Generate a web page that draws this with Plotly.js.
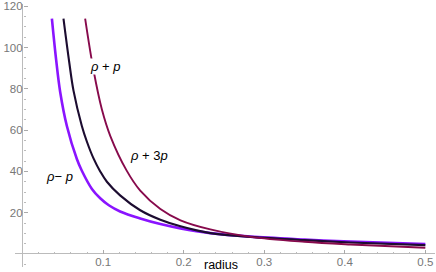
<!DOCTYPE html>
<html>
<head>
<meta charset="utf-8">
<script src="https://cdn.plot.ly/plotly-3.0.1.min.js"></script>
<style>html,body{margin:0;padding:0;background:#fff;}#chart{width:436px;height:272px;}</style>
</head>
<body>
<div id="chart"></div>
<script>
// rho - p
const radiusMinusP = [0.0363, 0.0416, 0.0466, 0.0549, 0.0673, 0.0735, 0.086, 0.0963, 0.107, 0.121, 0.146, 0.171, 0.196, 0.233, 0.283, 0.35, 0.407, 0.5];
const valuesMinusP = [114, 94, 78.5, 62, 46, 40.3, 31.5, 27, 23.6, 20.6, 17.2, 14.5, 12.4, 10.1, 8.4, 7.0, 6.0, 4.8];
// rho + p
const radiusPlusP = [0.0507, 0.0578, 0.0632, 0.0735, 0.0797, 0.088, 0.0963, 0.1046, 0.121, 0.146, 0.171, 0.196, 0.233, 0.283, 0.35, 0.407, 0.5];
const valuesPlusP = [114, 93, 79, 62, 54.5, 46.3, 40, 35, 28.4, 21.2, 16.6, 13.4, 10.1, 8.3, 6.7, 5.6, 4.3];
// rho + 3p
const radiusPlus3P = [0.0776, 0.088, 0.0984, 0.109, 0.129, 0.146, 0.171, 0.196, 0.233, 0.283, 0.35, 0.407, 0.5];
const valuesPlus3P = [114, 89, 70, 57, 40.5, 30.7, 21.8, 16.3, 11.9, 8.3, 5.9, 4.6, 3.0];

const xTicks = [0.1, 0.2, 0.3, 0.4, 0.5];
const yTicks = [20, 40, 60, 80, 100, 120];
const curveLabels = ['<i>ρ</i> + <i>p</i>', '<i>ρ</i> + 3<i>p</i>', '<i>ρ</i>− <i>p</i>'];
const labelX = [0.1025, 0.157, 0.0453];
const labelY = [91, 47.5, 37.3];

const xRange = [-0.0095, 0.512];
const yRange = [-6.3, 121.1];

const traces = [
  {x: radiusMinusP, y: valuesMinusP, mode: 'lines', line: {color: '#8a14ff', width: 2.6, shape: 'spline', smoothing: 1}, name: 'rho-p'},
  {x: radiusPlusP, y: valuesPlusP, mode: 'lines', line: {color: '#1c0c30', width: 2.1, shape: 'spline', smoothing: 1}, name: 'rho+p'},
  {x: radiusPlus3P, y: valuesPlus3P, mode: 'lines', line: {color: '#870a4c', width: 1.9, shape: 'spline', smoothing: 1}, name: 'rho+3p'}
];

const annotations = curveLabels.map((t, i) => ({
  x: labelX[i], y: labelY[i], xref: 'x', yref: 'y', text: t, showarrow: false,
  font: {family: 'Liberation Sans, Arial, sans-serif', size: 13, color: '#000'},
  bgcolor: 'white', borderpad: 0
}));
annotations.push({
  x: 0.2466, y: 0, xref: 'x', yref: 'y', text: 'radius', showarrow: false,
  yanchor: 'top', yshift: -2,
  font: {family: 'Liberation Sans, Arial, sans-serif', size: 12.5, color: '#000'}
});

const tickFont = {family: 'Liberation Sans, Arial, sans-serif', size: 11.5, color: '#777'};

const layout = {
  width: 436, height: 272,
  margin: {l: 15, r: 1, t: 4, b: 5},
  paper_bgcolor: '#fff', plot_bgcolor: '#fff',
  showlegend: false,
  xaxis: {
    range: xRange, showgrid: false, zeroline: true, zerolinecolor: '#bbb', zerolinewidth: 1,
    showline: false, anchor: 'free', position: (0 - yRange[0]) / (yRange[1] - yRange[0]),
    tickmode: 'array', tickvals: xTicks, ticktext: xTicks.map(String),
    ticks: 'inside', ticklen: 4, tickcolor: '#aaa', tickwidth: 1,
    minor: {dtick: 0.02, ticks: 'inside', ticklen: 2, tickcolor: '#bbb'},
    tickfont: tickFont
  },
  yaxis: {
    range: yRange, showgrid: false, zeroline: true, zerolinecolor: '#bbb', zerolinewidth: 1,
    showline: false, anchor: 'free', position: (0 - xRange[0]) / (xRange[1] - xRange[0]),
    tickmode: 'array', tickvals: yTicks, ticktext: yTicks.map(String),
    ticks: 'inside', ticklen: 4, tickcolor: '#aaa', tickwidth: 1,
    minor: {dtick: 5, ticks: 'inside', ticklen: 2, tickcolor: '#bbb'},
    tickfont: tickFont
  },
  annotations: annotations
};

Plotly.newPlot('chart', traces, layout, {staticPlot: true, displayModeBar: false});
</script>
</body>
</html>
